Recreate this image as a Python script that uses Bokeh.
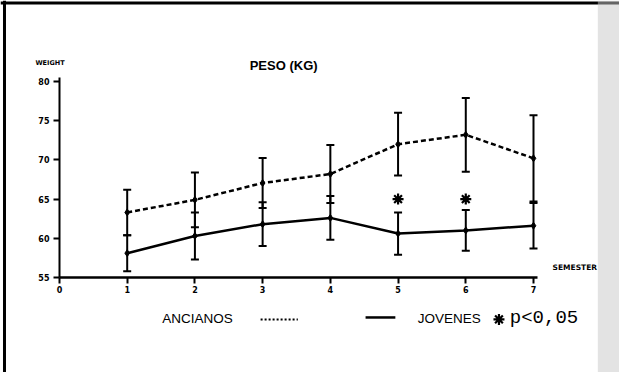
from bokeh.plotting import figure
from bokeh.models import (ColumnDataSource, Whisker, TeeHead, Label, Span,
                          FixedTicker, Range1d, BoxAnnotation)
from bokeh.embed import file_html
from bokeh.resources import INLINE

# ---- data ----
semesters = [1, 2, 3, 4, 5, 6, 7]
ancianos_mean = [63.3, 64.9, 67.05, 68.2, 72.0, 73.2, 70.2]
ancianos_sd = [2.9, 3.5, 3.2, 3.7, 4.0, 4.7, 5.5]
jovenes_mean = [58.1, 60.3, 61.8, 62.6, 60.6, 61.0, 61.6]
jovenes_sd = [2.3, 3.0, 2.8, 2.8, 2.7, 2.6, 2.9]
signif_semesters = [5, 6]
signif_level = [65.0, 65.0]
x_ticks = [0, 1, 2, 3, 4, 5, 6, 7]
y_ticks = [55, 60, 65, 70, 75, 80]

W, H = 619, 372
p = figure(width=W, height=H, output_backend="svg", toolbar_location=None,
           x_range=Range1d(-0.871, 8.27), y_range=Range1d(42.88, 90.33),
           min_border=0, min_border_left=0, min_border_right=0,
           min_border_top=0, min_border_bottom=0)
p.outline_line_color = None
p.background_fill_color = "white"
p.border_fill_color = "white"
p.grid.visible = False

# axes at fixed positions
xa = p.xaxis[0]
xa.fixed_location = 55
xa.bounds = (0, 7.06)
xa.ticker = FixedTicker(ticks=x_ticks)
xa.axis_line_width = 2.5
xa.axis_line_color = "black"
xa.major_tick_line_width = 2
xa.major_tick_line_color = "black"
xa.major_tick_out = 6
xa.major_tick_in = 0
xa.minor_tick_line_color = None
xa.major_label_text_color = "black"
xa.major_label_text_font = "DejaVu Sans"
xa.major_label_text_font_style = "bold"
xa.major_label_text_font_size = "8px"
xa.major_label_standoff = 3

ya = p.yaxis[0]
ya.fixed_location = 0
ya.bounds = (55, 80.5)
ya.ticker = FixedTicker(ticks=y_ticks)
ya.axis_line_width = 2
ya.axis_line_color = "black"
ya.major_tick_line_width = 2
ya.major_tick_line_color = "black"
ya.major_tick_out = 6
ya.major_tick_in = 0
ya.minor_tick_line_color = None
ya.major_label_text_color = "black"
ya.major_label_text_font = "DejaVu Sans"
ya.major_label_text_font_style = "bold"
ya.major_label_text_font_size = "8px"
ya.major_label_standoff = 4

# frame lines of the scanned page (left and top edges)
p.add_layout(Span(location=-0.812, dimension="height", line_color="black", line_width=3))
p.add_layout(Span(location=90.0, dimension="width", line_color="black", line_width=3))
# halftone shading on right edge
p.add_layout(BoxAnnotation(left=7.95, fill_color="#c8c8c8", fill_alpha=0.5, line_color=None))

src_a = ColumnDataSource(dict(
    x=semesters, y=ancianos_mean,
    up=[m + s for m, s in zip(ancianos_mean, ancianos_sd)],
    lo=[m - s for m, s in zip(ancianos_mean, ancianos_sd)]))
src_j = ColumnDataSource(dict(
    x=semesters, y=jovenes_mean,
    up=[m + s for m, s in zip(jovenes_mean, jovenes_sd)],
    lo=[m - s for m, s in zip(jovenes_mean, jovenes_sd)]))

for src in (src_a, src_j):
    w = Whisker(source=src, base="x", upper="up", lower="lo", dimension="height",
                line_color="black", line_width=2,
                upper_head=TeeHead(size=8, line_width=2, line_color="black"),
                lower_head=TeeHead(size=8, line_width=2, line_color="black"))
    p.add_layout(w)

p.line("x", "y", source=src_a, line_color="black", line_width=2.5, line_dash="5 3")
p.line("x", "y", source=src_j, line_color="black", line_width=2.5)
p.scatter("x", "y", source=src_a, marker="diamond", size=7, color="black")
p.scatter("x", "y", source=src_j, marker="diamond", size=7, color="black")

# significance markers
p.scatter(signif_semesters, signif_level, marker="asterisk", size=11,
          line_width=2.2, color="black")

# texts
p.add_layout(Label(x=3.31, y=82.08, text="PESO (KG)", text_align="center",
                   text_baseline="middle", text_font="Liberation Sans",
                   text_font_style="bold", text_font_size="13px", text_color="black"))
p.add_layout(Label(x=-0.14, y=82.33, text="WEIGHT", text_align="center",
                   text_baseline="middle", text_font="DejaVu Sans",
                   text_font_style="bold", text_font_size="6.5px", text_color="black"))
p.add_layout(Label(x=7.61, y=56.28, text="SEMESTER", text_align="center",
                   text_baseline="middle", text_font="DejaVu Sans",
                   text_font_style="bold", text_font_size="7.5px", text_color="black"))

# legend (bottom)
leg_y = 49.75
p.add_layout(Label(x=1.518, y=leg_y, text="ANCIANOS", text_align="left",
                   text_baseline="middle", text_font="Liberation Sans",
                   text_font_size="13.5px", text_color="black"))
p.line([2.97, 3.52], [leg_y - 0.1, leg_y - 0.1], line_color="black",
       line_width=2, line_dash="2 2")
p.line([4.52, 4.96], [leg_y + 0.15, leg_y + 0.15], line_color="black", line_width=2.5)
p.add_layout(Label(x=5.29, y=leg_y, text="JOVENES", text_align="left",
                   text_baseline="middle", text_font="Liberation Sans",
                   text_font_size="13.5px", text_color="black"))
p.scatter([6.49], [leg_y - 0.1], marker="asterisk", size=11, line_width=2.2, color="black")
p.add_layout(Label(x=6.65, y=leg_y + 0.1, text="p<0,05", text_align="left",
                   text_baseline="middle", text_font="Liberation Mono",
                   text_font_size="19px", text_color="black"))

open("out.html", "w").write(file_html(p, INLINE))
